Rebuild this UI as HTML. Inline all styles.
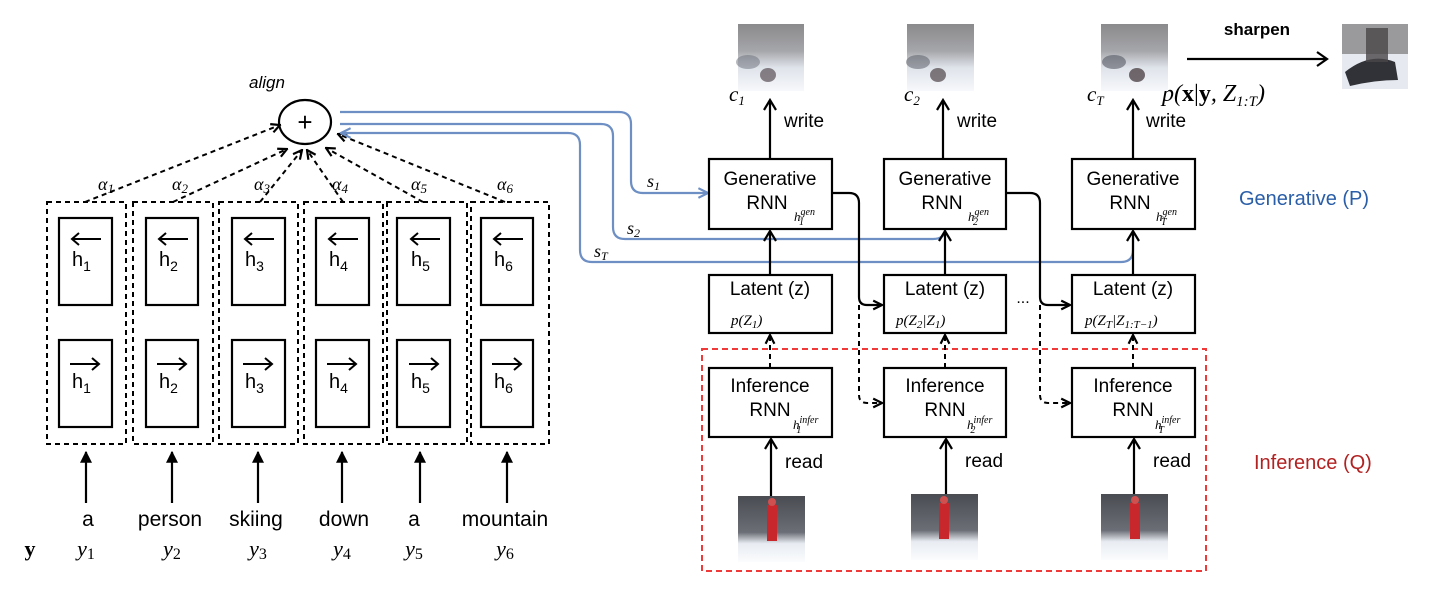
<!DOCTYPE html>
<html><head><meta charset="utf-8"><style>
html,body{margin:0;padding:0;background:#fff;}
svg{display:block;}
.t{font-family:"Liberation Sans",sans-serif;fill:#000;}
.m{font-family:"Liberation Serif",serif;font-style:italic;fill:#000;}
</style></head><body>
<svg width="1448" height="596" viewBox="0 0 1448 596" xmlns="http://www.w3.org/2000/svg">
<defs>
<marker id="ah" viewBox="0 0 10 10" refX="9" refY="5" markerWidth="11" markerHeight="11" markerUnits="userSpaceOnUse" orient="auto"><path d="M1,1 L9,5 L1,9" fill="none" stroke="#000" stroke-width="2"/></marker>
<marker id="ahb" viewBox="0 0 10 10" refX="9" refY="5" markerWidth="12" markerHeight="12" markerUnits="userSpaceOnUse" orient="auto"><path d="M1,1 L9,5 L1,9" fill="none" stroke="#6d8fc4" stroke-width="1.8"/></marker>
<marker id="af" viewBox="0 0 10 10" refX="9" refY="5" markerWidth="12" markerHeight="14" markerUnits="userSpaceOnUse" orient="auto"><path d="M0,0 L10,5 L0,10 Z" fill="#000"/></marker>
<linearGradient id="blur" x1="0" y1="0" x2="0" y2="1"><stop offset="0" stop-color="#8a8a8c"/><stop offset="0.4" stop-color="#a5a6aa"/><stop offset="0.65" stop-color="#dfe3ea"/><stop offset="1" stop-color="#f6f8fb"/></linearGradient>
<linearGradient id="ski" x1="0" y1="0" x2="0" y2="1"><stop offset="0" stop-color="#4a4c52"/><stop offset="0.55" stop-color="#6b6e76"/><stop offset="0.72" stop-color="#e8ecf2"/><stop offset="1" stop-color="#fbfcfd"/></linearGradient>
</defs>

<g fill="none" stroke="#000" stroke-width="2" stroke-dasharray="5,4">
<rect x="47" y="202" width="79" height="242"/>
<rect x="133" y="202" width="80" height="242"/>
<rect x="219" y="202" width="79" height="242"/>
<rect x="304" y="202" width="79" height="242"/>
<rect x="387" y="202" width="80" height="242"/>
<rect x="471" y="202" width="78" height="242"/>
</g>
<g fill="none" stroke="#000" stroke-width="2.2">
<rect x="59" y="218" width="53" height="87"/><rect x="59" y="340" width="53" height="87"/>
<rect x="146" y="218" width="52" height="87"/><rect x="146" y="340" width="52" height="87"/>
<rect x="232" y="218" width="53" height="87"/><rect x="232" y="340" width="53" height="87"/>
<rect x="316" y="218" width="53" height="87"/><rect x="316" y="340" width="53" height="87"/>
<rect x="397" y="218" width="53" height="87"/><rect x="397" y="340" width="53" height="87"/>
<rect x="481" y="218" width="52" height="87"/><rect x="481" y="340" width="52" height="87"/>
</g>
<g stroke="#000" stroke-width="2" fill="none">
<path d="M101,239 H72 M79,233 L72,239 L79,245"/>
<path d="M188,239 H159 M166,233 L159,239 L166,245"/>
<path d="M274,239 H245 M252,233 L245,239 L252,245"/>
<path d="M358,239 H329 M336,233 L329,239 L336,245"/>
<path d="M440,239 H411 M418,233 L411,239 L418,245"/>
<path d="M523,239 H494 M501,233 L494,239 L501,245"/>
<path d="M70,364 H99 M92,358 L99,364 L92,370"/>
<path d="M157,364 H186 M179,358 L186,364 L179,370"/>
<path d="M243,364 H272 M265,358 L272,364 L265,370"/>
<path d="M327,364 H356 M349,358 L356,364 L349,370"/>
<path d="M409,364 H438 M431,358 L438,364 L431,370"/>
<path d="M492,364 H521 M514,358 L521,364 L514,370"/>
</g>
<g class="t" font-size="20">
<text x="72" y="266">h<tspan font-size="14" dy="5">1</tspan></text>
<text x="159" y="266">h<tspan font-size="14" dy="5">2</tspan></text>
<text x="245" y="266">h<tspan font-size="14" dy="5">3</tspan></text>
<text x="329" y="266">h<tspan font-size="14" dy="5">4</tspan></text>
<text x="411" y="266">h<tspan font-size="14" dy="5">5</tspan></text>
<text x="494" y="266">h<tspan font-size="14" dy="5">6</tspan></text>
<text x="72" y="388">h<tspan font-size="14" dy="5">1</tspan></text>
<text x="159" y="388">h<tspan font-size="14" dy="5">2</tspan></text>
<text x="245" y="388">h<tspan font-size="14" dy="5">3</tspan></text>
<text x="329" y="388">h<tspan font-size="14" dy="5">4</tspan></text>
<text x="411" y="388">h<tspan font-size="14" dy="5">5</tspan></text>
<text x="494" y="388">h<tspan font-size="14" dy="5">6</tspan></text>
</g>

<ellipse cx="305" cy="122" rx="26" ry="22" fill="none" stroke="#000" stroke-width="2.2"/>
<text class="t" x="305" y="131" font-size="26" text-anchor="middle">+</text>
<text class="t" x="267" y="88" font-size="17" font-style="italic" text-anchor="middle">align</text>

<g stroke="#000" stroke-width="2" fill="none" stroke-dasharray="5,4" marker-end="url(#ah)">
<line x1="85" y1="202" x2="280" y2="125"/>
<line x1="173" y1="202" x2="287" y2="149"/>
<line x1="260" y1="202" x2="302" y2="150"/>
<line x1="343" y1="202" x2="307" y2="150"/>
<line x1="423" y1="202" x2="326" y2="148"/>
<line x1="505" y1="202" x2="338" y2="134"/>
</g>
<g class="m" font-size="18">
<text x="98" y="190">α<tspan font-size="13" dy="3">1</tspan></text>
<text x="172" y="190">α<tspan font-size="13" dy="3">2</tspan></text>
<text x="254" y="190">α<tspan font-size="13" dy="3">3</tspan></text>
<text x="332" y="190">α<tspan font-size="13" dy="3">4</tspan></text>
<text x="411" y="190">α<tspan font-size="13" dy="3">5</tspan></text>
<text x="497" y="190">α<tspan font-size="13" dy="3">6</tspan></text>
</g>

<g stroke="#000" stroke-width="2.2" marker-end="url(#af)">
<line x1="86" y1="503" x2="86" y2="452"/>
<line x1="172" y1="503" x2="172" y2="452"/>
<line x1="258" y1="503" x2="258" y2="452"/>
<line x1="342" y1="503" x2="342" y2="452"/>
<line x1="420" y1="503" x2="420" y2="452"/>
<line x1="507" y1="503" x2="507" y2="452"/>
</g>
<g class="t" font-size="21" text-anchor="middle">
<text x="88" y="526">a</text>
<text x="170" y="526">person</text>
<text x="256" y="526">skiing</text>
<text x="344" y="526">down</text>
<text x="414" y="526">a</text>
<text x="505" y="526">mountain</text>
</g>
<text x="30" y="556" font-family="Liberation Serif,serif" font-weight="bold" font-size="22" text-anchor="middle">y</text>
<g class="m" font-size="22" text-anchor="middle">
<text x="86" y="556">y<tspan font-style="normal" font-size="16" dy="3">1</tspan></text>
<text x="172" y="556">y<tspan font-style="normal" font-size="16" dy="3">2</tspan></text>
<text x="258" y="556">y<tspan font-style="normal" font-size="16" dy="3">3</tspan></text>
<text x="342" y="556">y<tspan font-style="normal" font-size="16" dy="3">4</tspan></text>
<text x="414" y="556">y<tspan font-style="normal" font-size="16" dy="3">5</tspan></text>
<text x="505" y="556">y<tspan font-style="normal" font-size="16" dy="3">6</tspan></text>
</g>

<g fill="none" stroke="#6d8fc4" stroke-width="2.2">
<path d="M340,112 H619 Q631,112 631,124 V181 Q631,193 643,193 H708" marker-end="url(#ahb)"/>
<path d="M340,124 H601 Q613,124 613,136 V227 Q613,239 625,239 H933 Q945,239 945,229 V231" />
<path d="M580,150 V250 Q580,262 592,262 H1121 Q1133,262 1133,250 V231"/>
<path d="M580,150 V145 Q580,133 568,133 H341" marker-end="url(#ahb)"/>
</g>
<g fill="none" stroke="#000" stroke-width="2.2">
<path d="M945,275 V231 M939,241 L945,231 L951,241"/>
<path d="M1133,275 V231 M1127,241 L1133,231 L1139,241"/>
<path d="M770,275 V231 M764,241 L770,231 L776,241"/>
</g>
<g class="m" font-size="18">
<text x="647" y="187">s<tspan font-size="12" dy="3">1</tspan></text>
<text x="627" y="234">s<tspan font-size="12" dy="3">2</tspan></text>
<text x="594" y="257">s<tspan font-size="12" dy="3">T</tspan></text>
</g>

<rect x="702" y="349" width="504" height="222" fill="none" stroke="#f03a3a" stroke-width="2" stroke-dasharray="6,4"/>

<g fill="#fff" stroke="#000" stroke-width="2.2">
<rect x="709" y="159" width="123" height="70"/>
<rect x="884" y="159" width="122" height="70"/>
<rect x="1072" y="159" width="123" height="70"/>
<rect x="709" y="275" width="123" height="58"/>
<rect x="884" y="275" width="122" height="58"/>
<rect x="1072" y="275" width="123" height="58"/>
<rect x="709" y="368" width="123" height="69"/>
<rect x="884" y="368" width="122" height="69"/>
<rect x="1072" y="368" width="123" height="69"/>
</g>
<g class="t" font-size="19" text-anchor="middle">
<text x="770" y="185">Generative</text><text x="767" y="209">RNN</text>
<text x="945" y="185">Generative</text><text x="942" y="209">RNN</text>
<text x="1133" y="185">Generative</text><text x="1130" y="209">RNN</text>
<text x="770" y="295">Latent (z)</text>
<text x="945" y="295">Latent (z)</text>
<text x="1133" y="295">Latent (z)</text>
<text x="770" y="392">Inference</text><text x="770" y="416">RNN</text>
<text x="945" y="392">Inference</text><text x="945" y="416">RNN</text>
<text x="1133" y="392">Inference</text><text x="1133" y="416">RNN</text>
</g>
<g class="m" font-size="13">
<text x="794" y="221">h<tspan font-size="10" dy="-6">gen</tspan><tspan font-size="10" dx="-16" dy="10">1</tspan></text>
<text x="968" y="221">h<tspan font-size="10" dy="-6">gen</tspan><tspan font-size="10" dx="-16" dy="10">2</tspan></text>
<text x="1156" y="221">h<tspan font-size="10" dy="-6">gen</tspan><tspan font-size="10" dx="-16" dy="10">T</tspan></text>
<text x="793" y="429">h<tspan font-size="10" dy="-6">infer</tspan><tspan font-size="10" dx="-22" dy="10">1</tspan></text>
<text x="967" y="429">h<tspan font-size="10" dy="-6">infer</tspan><tspan font-size="10" dx="-22" dy="10">2</tspan></text>
<text x="1155" y="429">h<tspan font-size="10" dy="-6">infer</tspan><tspan font-size="10" dx="-22" dy="10">T</tspan></text>
</g>
<g class="m" font-size="15">
<text x="731" y="325">p(Z<tspan font-size="11" dy="3">1</tspan><tspan dy="-3">)</tspan></text>
<text x="896" y="325">p(Z<tspan font-size="11" dy="3">2</tspan><tspan dy="-3">|Z</tspan><tspan font-size="11" dy="3">1</tspan><tspan dy="-3">)</tspan></text>
<text x="1085" y="325">p(Z<tspan font-size="11" dy="3">T</tspan><tspan dy="-3">|Z</tspan><tspan font-size="11" dy="3">1:T−1</tspan><tspan dy="-3">)</tspan></text>
</g>
<text class="t" x="1023" y="303" font-size="16" text-anchor="middle">...</text>

<g fill="none" stroke="#000" stroke-width="2.2">
<path d="M832,193 H849 Q859,193 859,203 V297 Q859,305 867,305 H882" marker-end="url(#ah)"/>
<path d="M1006,193 H1030 Q1040,193 1040,203 V297 Q1040,305 1048,305 H1070" marker-end="url(#ah)"/>
</g>
<g fill="none" stroke="#000" stroke-width="2" stroke-dasharray="5,4">
<path d="M859,305 V395 Q859,403 867,403 H882" marker-end="url(#ah)"/>
<path d="M1040,305 V395 Q1040,403 1048,403 H1070" marker-end="url(#ah)"/>
<line x1="770" y1="368" x2="770" y2="335" marker-end="url(#ah)"/>
<line x1="945" y1="368" x2="945" y2="335" marker-end="url(#ah)"/>
<line x1="1133" y1="368" x2="1133" y2="335" marker-end="url(#ah)"/>
</g>
<g stroke="#000" stroke-width="2.2" fill="none">
<path d="M770,159 V100 M764,110 L770,100 L776,110"/>
<path d="M943,159 V100 M937,110 L943,100 L949,110"/>
<path d="M1133,159 V100 M1127,110 L1133,100 L1139,110"/>
<path d="M771,496 V439 M765,449 L771,439 L777,449"/>
<path d="M946,494 V439 M940,449 L946,439 L952,449"/>
<path d="M1134,494 V439 M1128,449 L1134,439 L1140,449"/>
<path d="M1187,59 H1327 M1317,52 L1327,59 L1317,66"/>
</g>
<g class="t" font-size="19">
<text x="784" y="127">write</text>
<text x="957" y="127">write</text>
<text x="1146" y="127">write</text>
<text x="785" y="468">read</text>
<text x="965" y="467">read</text>
<text x="1153" y="467">read</text>
</g>
<text class="t" x="1257" y="35" font-size="17" font-weight="bold" text-anchor="middle">sharpen</text>
<text class="m" x="1162" y="101" font-size="24">p(<tspan font-style="normal" font-weight="bold">x</tspan><tspan font-style="normal">|</tspan><tspan font-style="normal" font-weight="bold">y</tspan>, Z<tspan font-size="15" dy="5">1:T</tspan><tspan dy="-5">)</tspan></text>
<g class="m" font-size="21">
<text x="729" y="101">c<tspan font-size="13" dy="4">1</tspan></text>
<text x="904" y="101">c<tspan font-size="13" dy="4">2</tspan></text>
<text x="1087" y="101">c<tspan font-size="13" dy="4">T</tspan></text>
</g>
<text class="t" x="1239" y="205" font-size="20" style="fill:#2a5ea8">Generative (P)</text>
<text class="t" x="1254" y="469" font-size="20" style="fill:#b22222">Inference (Q)</text>

<g>
<rect x="738" y="24" width="66" height="67" fill="url(#blur)"/>
<ellipse cx="768" cy="75" rx="8" ry="7" fill="#5a5055" opacity="0.7"/>
<ellipse cx="748" cy="62" rx="12" ry="7" fill="#6a6e78" opacity="0.5"/>
<rect x="907" y="24" width="67" height="67" fill="url(#blur)"/>
<ellipse cx="938" cy="75" rx="8" ry="7" fill="#4f4448" opacity="0.7"/>
<ellipse cx="918" cy="62" rx="12" ry="7" fill="#5d606a" opacity="0.55"/>
<rect x="1101" y="24" width="67" height="67" fill="url(#blur)"/>
<ellipse cx="1137" cy="75" rx="8" ry="7" fill="#463a3e" opacity="0.75"/>
<ellipse cx="1114" cy="62" rx="12" ry="7" fill="#555862" opacity="0.6"/>
<rect x="1342" y="24" width="66" height="65" fill="#e6eaf0"/>
<rect x="1342" y="24" width="66" height="30" fill="#9a9a9c"/>
<path d="M1345,72 Q1370,52 1395,62 L1398,80 Q1375,80 1350,86 Z" fill="#303238"/>
<rect x="1366" y="28" width="22" height="34" fill="#4a4648" opacity="0.8"/>
</g>
<g>
<rect x="738" y="496" width="67" height="66" fill="url(#ski)"/>
<rect x="767" y="505" width="10" height="36" fill="#c8282c"/>
<circle cx="772" cy="502" r="4" fill="#d05050"/>
<rect x="911" y="494" width="67" height="66" fill="url(#ski)"/>
<rect x="939" y="503" width="10" height="36" fill="#c8282c"/>
<circle cx="944" cy="500" r="4" fill="#d05050"/>
<rect x="1101" y="494" width="67" height="66" fill="url(#ski)"/>
<rect x="1130" y="503" width="10" height="36" fill="#c8282c"/>
<circle cx="1135" cy="500" r="4" fill="#d05050"/>
</g>
</svg>
</body></html>
